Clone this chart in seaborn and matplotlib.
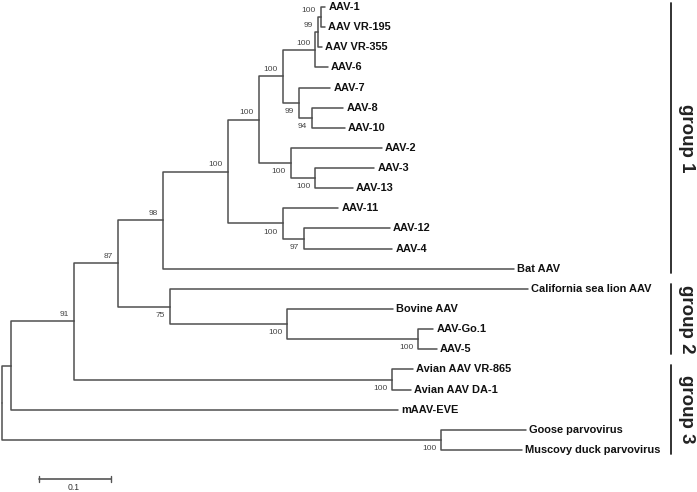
import pandas as pd
import numpy as np
import matplotlib
matplotlib.use("Agg")
import matplotlib.pyplot as plt
import seaborn as sns

# tree nodes in pre-order, children listed top to bottom
node = ["root", "n_a", "n_b", "n_c", "n_d", "n_h", "n_i", "n_l", "n_p", "n_s", "n_t",
        "AAV-1", "AAV VR-195", "AAV VR-355", "AAV-6", "n_q", "AAV-7", "n_r", "AAV-8", "AAV-10",
        "n_m", "AAV-2", "n_n", "AAV-3", "AAV-13", "n_j", "AAV-11", "n_k", "AAV-12", "AAV-4",
        "Bat AAV", "n_e", "California sea lion AAV", "n_f", "Bovine AAV", "n_g", "AAV-Go.1", "AAV-5",
        "n_av", "Avian AAV VR-865", "Avian AAV DA-1", "mAAV-EVE", "n_gm", "Goose parvovirus",
        "Muscovy duck parvovirus"]
parent = [None, "root", "n_a", "n_b", "n_c", "n_d", "n_h", "n_i", "n_l", "n_p", "n_s",
          "n_t", "n_t", "n_s", "n_p", "n_l", "n_q", "n_q", "n_r", "n_r",
          "n_i", "n_m", "n_m", "n_n", "n_n", "n_h", "n_j", "n_j", "n_k", "n_k",
          "n_d", "n_c", "n_e", "n_e", "n_f", "n_f", "n_g", "n_g",
          "n_b", "n_av", "n_av", "n_a", "root", "n_gm",
          "n_gm"]
branch = [0.0, 0.0125, 0.0875, 0.061, 0.063, 0.090, 0.043, 0.033, 0.045, 0.004, 0.004,
          0.006, 0.006, 0.005, 0.018, 0.0225, 0.0435, 0.0185, 0.043, 0.045,
          0.044, 0.127, 0.034, 0.082, 0.0525, 0.076, 0.077, 0.029, 0.120, 0.123,
          0.487, 0.072, 0.498, 0.163, 0.147, 0.182, 0.021, 0.026,
          0.442, 0.029, 0.026, 0.5375, 0.610, 0.118,
          0.112]
support = [None, None, 91, 87, 98, 100, 100, 100, 100, 99, 100,
           None, None, None, None, 99, None, 94, None, None,
           100, None, 100, None, None, 100, None, 97, None, None,
           None, 75, None, 100, None, 100, None, None,
           100, None, None, None, 100, None,
           None]

groups = ["group 1", "group 2", "group 3"]
group_first = ["AAV-1", "California sea lion AAV", "Avian AAV VR-865"]
group_last = ["Bat AAV", "AAV-5", "Muscovy duck parvovirus"]

scale_len = 0.1
scale_label = "0.1"

# layout of the tree
children = {n: [] for n in node}
for n, p in zip(node, parent):
    if p is not None:
        children[p].append(n)

depth = {}
for n, p, b in zip(node, parent, branch):
    depth[n] = 0.0 if p is None else depth[p] + b

ypos = {}
leaf_count = 0
for n in node:
    if not children[n]:
        ypos[n] = leaf_count
        leaf_count += 1


def set_y(n):
    if children[n]:
        ys = [set_y(c) for c in children[n]]
        ypos[n] = (ys[0] + ys[-1]) / 2
    return ypos[n]


set_y("root")

# elbow segments: parent bar -> child branch
rows = []
for n, p in zip(node, parent):
    if p is None:
        continue
    pts = [(depth[p], ypos[p]), (depth[p], ypos[n]), (depth[n], ypos[n])]
    for k, (x, y) in enumerate(pts):
        rows.append({"seg": n, "order": k, "x": x, "y": y})
seg_df = pd.DataFrame(rows)

sns.set_style("white")
plt.rcParams["font.family"] = ["Liberation Sans", "DejaVu Sans"]

fig = plt.figure(figsize=(6.97, 4.92), dpi=100)
ax = fig.add_axes([0, 0, 1, 1])

sns.lineplot(data=seg_df, x="x", y="y", units="seg", estimator=None, sort=False,
             color="#505050", linewidth=1.1, ax=ax, legend=False)

# pixel mapping: x_px = 2 + depth * 720, y_px = 7 + leaf * 20.136
px_per_unit = 720.0
ax.set_xlim(-2 / px_per_unit, 695 / px_per_unit)
ax.set_ylim(485 / 20.136, -7 / 20.136)
ax.axis("off")

# leaf labels
for n in node:
    if not children[n]:
        ax.annotate(n, (depth[n], ypos[n]), xytext=(2.2, 0), textcoords="offset points",
                    ha="left", va="center", fontsize=7.9, fontweight="bold", color="#111111")

# bootstrap values
for n, p, s in zip(node, parent, support):
    if s is None or p is None:
        continue
    upper = children[p][0] == n
    dy = 4.8 if upper else -6.2
    ax.annotate(str(s), (depth[n], ypos[n]), xytext=(-3.6, dy), textcoords="offset points",
                ha="right", va="center", fontsize=6.0, color="#444444")

# group brackets
bracket_x = 0.929
for g, a, b in zip(groups, group_first, group_last):
    y0 = ypos[a] - 0.22
    y1 = ypos[b] + 0.22
    ax.plot([bracket_x, bracket_x], [y0, y1], color="#222222", linewidth=1.3)
    ax.annotate(g, (bracket_x, (y0 + y1) / 2), xytext=(11, 0), textcoords="offset points",
                rotation=270, ha="center", va="center", fontsize=13.5, fontweight="bold",
                color="#222222")

# scale bar
sb_x0 = 37 / px_per_unit
sb_y = 472 / 20.136
ax.plot([sb_x0, sb_x0 + scale_len], [sb_y, sb_y], color="#555555", linewidth=1.2)
for xe in (sb_x0, sb_x0 + scale_len):
    ax.plot([xe, xe], [sb_y - 0.13, sb_y + 0.13], color="#555555", linewidth=1.0)
ax.annotate(scale_label, (sb_x0 + scale_len / 2, sb_y), xytext=(-1, -6), textcoords="offset points",
            ha="center", va="center", fontsize=6.2, color="#333333")

fig.savefig("out.png", dpi=100)
